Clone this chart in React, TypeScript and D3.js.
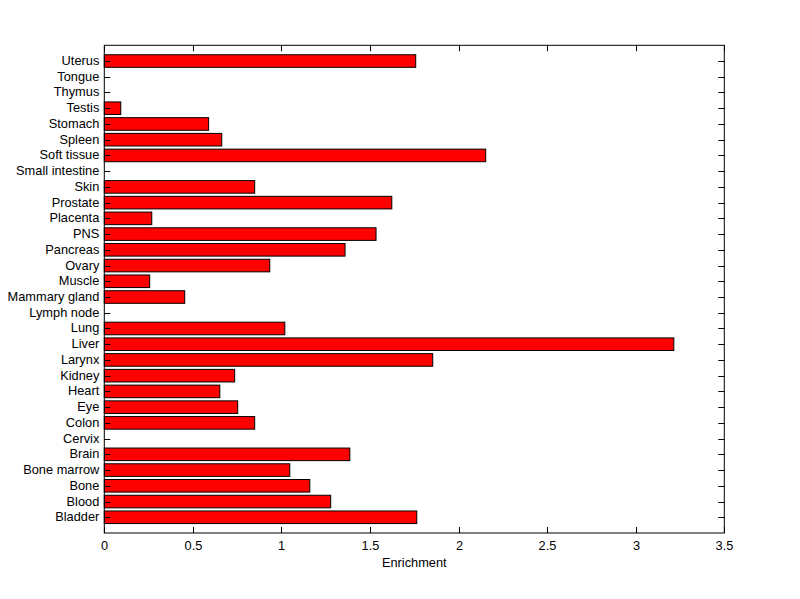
import React from "react";
import * as d3 from "d3";

const categories = [
  "Bladder", "Blood", "Bone", "Bone marrow", "Brain", "Cervix", "Colon", "Eye",
  "Heart", "Kidney", "Larynx", "Liver", "Lung", "Lymph node", "Mammary gland",
  "Muscle", "Ovary", "Pancreas", "PNS", "Placenta", "Prostate", "Skin",
  "Small intestine", "Soft tissue", "Spleen", "Stomach", "Testis", "Thymus",
  "Tongue", "Uterus",
];
const enrichment = [
  1.764, 1.278, 1.16, 1.047, 1.386, 0, 0.849, 0.753,
  0.652, 0.736, 1.854, 3.215, 1.019, 0, 0.454,
  0.256, 0.934, 1.359, 1.534, 0.268, 1.623, 0.849,
  0, 2.153, 0.663, 0.589, 0.093, 0, 0, 1.758,
];
const xTicks = [0, 0.5, 1, 1.5, 2, 2.5, 3, 3.5];
const xLabel = "Enrichment";

export default function App() {
  const W = 800, H = 599;
  const left = 104.3, right = 724.3, top = 45.3, bottom = 533;
  const x = d3.scaleLinear().domain([0, 3.5]).range([left, right]);
  const y = d3.scaleLinear().domain([0, categories.length + 1]).range([bottom, top]);
  const bh = (y(0) - y(0.8));
  const font = "Liberation Sans, Arial, sans-serif";
  const fs = 12.8;
  const tl = 6;
  return (
    <svg width={W} height={H} style={{ position: "absolute", left: 0, top: 0, background: "#fff" }}>
      <rect x={0} y={0} width={W} height={H} fill="#fff" />
      {categories.map((c, i) => {
        const v = enrichment[i];
        const yc = y(i + 1);
        return v > 0 ? (
          <rect key={c} x={x(0)} y={yc - bh / 2} width={x(v) - x(0)} height={bh}
            fill="#ff0000" stroke="#000" strokeWidth={1} />
        ) : null;
      })}
      <rect x={left} y={top} width={right - left} height={bottom - top} fill="none" stroke="#000" strokeWidth={1} />
      {categories.map((c, i) => {
        const yc = Math.round(y(i + 1)) + 0.5;
        return (
          <g key={"t" + c}>
            <line x1={left} x2={left + tl} y1={yc} y2={yc} stroke="#000" />
            <line x1={right} x2={right - tl} y1={yc} y2={yc} stroke="#000" />
            <text x={left - 5} y={yc - 0.5} dy="0.35em" textAnchor="end" fontFamily={font} fontSize={fs} fill="#000">{c}</text>
          </g>
        );
      })}
      {xTicks.map((t) => {
        const xx = Math.round(x(t)) + 0.5;
        return (
          <g key={"x" + t}>
            <line x1={xx} x2={xx} y1={bottom} y2={bottom - tl} stroke="#000" />
            <line x1={xx} x2={xx} y1={top} y2={top + tl} stroke="#000" />
            <text x={xx} y={bottom + 17} textAnchor="middle" fontFamily={font} fontSize={fs} fill="#000">{String(t)}</text>
          </g>
        );
      })}
      <text x={(left + right) / 2} y={bottom + 34} textAnchor="middle" fontFamily={font} fontSize={fs} fill="#000">{xLabel}</text>
    </svg>
  );
}
